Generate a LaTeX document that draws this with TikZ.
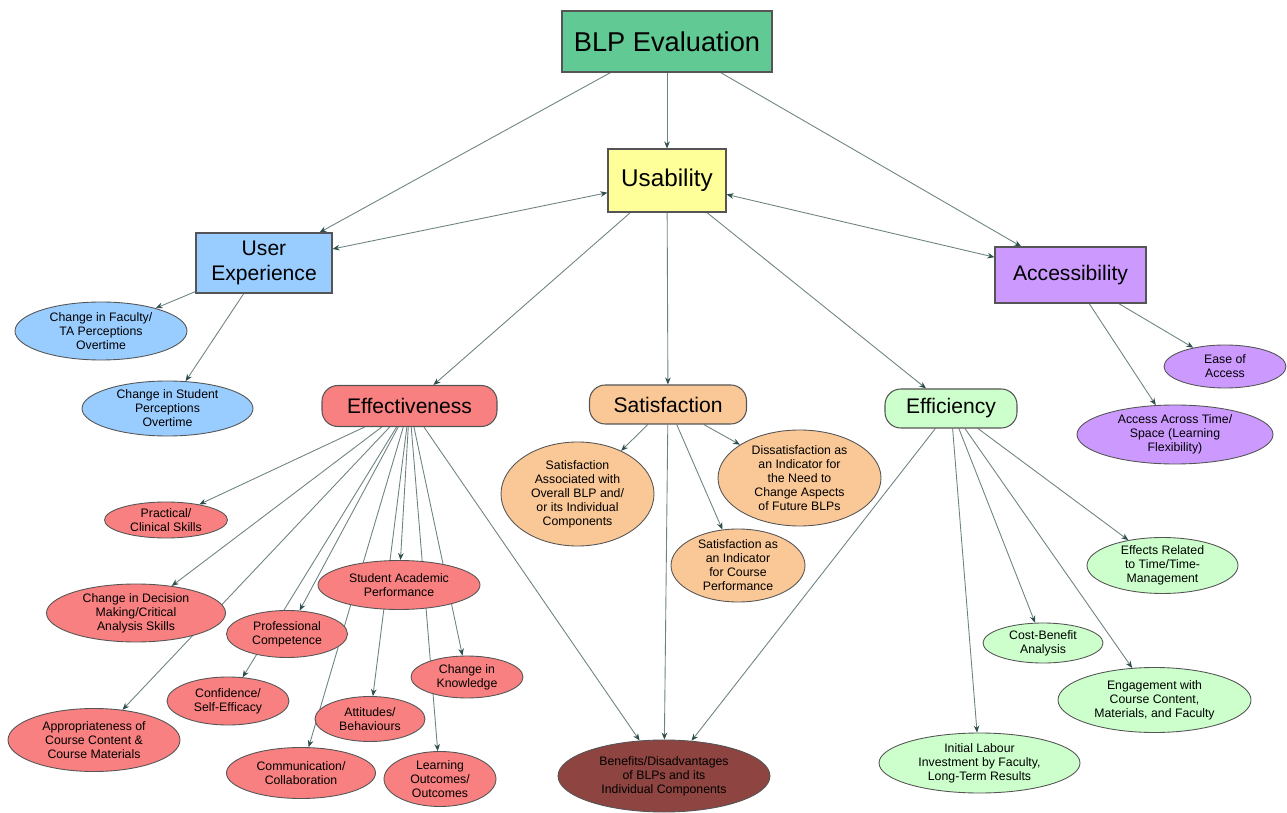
\documentclass[tikz,border=0pt]{standalone}
\usepackage{fontspec}
\setmainfont{Liberation Sans}
\usetikzlibrary{shapes.geometric,arrows.meta}
\pgfdeclarelayer{bg}
\pgfsetlayers{bg,main}
\definecolor{cBLP}{HTML}{61C993}
\definecolor{cUsa}{HTML}{FFFF99}
\definecolor{cBlue}{HTML}{99CCFF}
\definecolor{cPurp}{HTML}{CC99FF}
\definecolor{cRed}{HTML}{F88080}
\definecolor{cOrg}{HTML}{FAC896}
\definecolor{cGrn}{HTML}{CCFFCC}
\definecolor{cBen}{HTML}{8E4440}
\definecolor{lineC}{HTML}{6E8282}
\definecolor{tipC}{HTML}{2F4F4F}
\definecolor{bordC}{HTML}{555555}
\tikzset{
  sz/.style 2 args={minimum width=#1*0.02cm, minimum height=#2*0.02cm},
  boxnode/.style={rectangle, draw=bordC, line width=0.6pt, inner sep=0pt, align=center},
  rbox/.style={boxnode, rounded corners=9pt, font=\fontsize{12}{14}\selectfont},
  ell/.style={ellipse, draw=bordC, line width=0.5pt, inner sep=0pt, align=center, font=\fontsize{7}{8}\selectfont},
  conn/.style={draw=lineC, line width=0.5pt},
  >={Stealth[length=4pt,width=3.2pt,color=tipC]}
}
\begin{document}
\begin{tikzpicture}[x=0.02cm,y=-0.02cm]
\useasboundingbox (0,0) rectangle (1287,813);
% top level
\node[boxnode, fill=cBLP, sz={210}{61}, font=\fontsize{15.5}{18}\selectfont] (blp) at (667,41.5) {BLP Evaluation};
\node[boxnode, fill=cUsa, sz={118}{63}, font=\fontsize{13.8}{16}\selectfont] (usab) at (667,180.5) {Usability};
\node[boxnode, fill=cBlue, sz={136}{60}, font=\fontsize{12}{14.2}\selectfont] (ux) at (264,263) {User\\Experience};
\node[boxnode, fill=cPurp, sz={151}{56}, font=\fontsize{12}{14}\selectfont] (acc) at (1070.5,275) {Accessibility};
\node[rbox, fill=cRed, sz={175}{41}] (eff) at (409.5,406) {Effectiveness};
\node[rbox, fill=cOrg, sz={157}{39}] (sat) at (668,404.5) {Satisfaction};
\node[rbox, fill=cGrn, sz={132}{39}] (effi) at (951,408.5) {Efficiency};
% user experience
\node[ell, fill=cBlue, sz={172}{58}] (fac) at (101,331) {Change in Faculty/\\TA Perceptions\\Overtime};
\node[ell, fill=cBlue, sz={171}{55}] (stu) at (167.5,408.5) {Change in Student\\Perceptions\\Overtime};
% accessibility
\node[ell, fill=cPurp, sz={122}{43}] (ease) at (1225,366.5) {Ease of\\Access};
\node[ell, fill=cPurp, sz={196}{59}] (across) at (1175,434.5) {Access Across Time/\\Space (Learning\\Flexibility)};
% satisfaction
\node[ell, fill=cOrg, sz={153}{104}] (sassoc) at (577.5,494) {Satisfaction\\Associated with\\Overall BLP and/\\or its Individual\\Components};
\node[ell, fill=cOrg, sz={163}{96}] (dissat) at (799.5,478) {Dissatisfaction as\\an Indicator for\\the Need to\\Change Aspects\\of Future BLPs};
\node[ell, fill=cOrg, sz={134}{73}] (sind) at (738,565.5) {Satisfaction as\\an Indicator\\for Course\\Performance};
% efficiency
\node[ell, fill=cGrn, sz={151}{55}] (time) at (1162.5,565.5) {Effects Related\\to Time/Time-\\Management};
\node[ell, fill=cGrn, sz={120}{40}] (cost) at (1043,643) {Cost-Benefit\\Analysis};
\node[ell, fill=cGrn, sz={193}{65}] (eng) at (1154.5,700) {Engagement with\\Course Content,\\Materials, and Faculty};
\node[ell, fill=cGrn, sz={201}{60}] (labour) at (979.5,763) {Initial Labour\\Investment by Faculty,\\Long-Term Results};
% effectiveness
\node[ell, fill=cRed, sz={123}{36}] (prac) at (166,520) {Practical/\\Clinical Skills};
\node[ell, fill=cRed, sz={179}{58}] (dec) at (136,613) {Change in Decision\\Making/Critical\\Analysis Skills};
\node[ell, fill=cRed, sz={121}{47}] (prof) at (287,634) {Professional\\Competence};
\node[ell, fill=cRed, sz={162}{49}] (sap) at (399,585) {Student Academic\\Performance};
\node[ell, fill=cRed, sz={122}{48}] (conf) at (228,701) {Confidence/\\Self-Efficacy};
\node[ell, fill=cRed, sz={172}{63}] (appr) at (94,740) {Appropriateness of\\Course Content \&\\Course Materials};
\node[ell, fill=cRed, sz={112}{42}] (know) at (467,677) {Change in\\Knowledge};
\node[ell, fill=cRed, sz={110}{45}] (att) at (370,719) {Attitudes/\\Behaviours};
\node[ell, fill=cRed, sz={149}{51}] (comm) at (301,773) {Communication/\\Collaboration};
\node[ell, fill=cRed, sz={112}{55}] (learn) at (440,779) {Learning\\Outcomes/\\Outcomes};
% benefits
\node[ell, fill=cBen, sz={212}{72}] (ben) at (664,776) {Benefits/Disadvantages\\of BLPs and its\\Individual Components};
% connectors
\begin{pgfonlayer}{bg}
\draw[conn,->] (blp) -- (usab);
\draw[conn,->] (blp) -- (ux);
\draw[conn,->] (blp) -- (acc);
\draw[conn,<->] (usab) -- (ux);
\draw[conn,<->] (usab) -- (acc);
\draw[conn,->] (usab) -- (eff);
\draw[conn,->] (usab) -- (sat);
\draw[conn,->] (usab) -- (effi);
\draw[conn,->] (ux) -- (fac);
\draw[conn,->] (ux) -- (stu);
\draw[conn,->] (acc) -- (ease);
\draw[conn,->] (acc) -- (across);
\draw[conn,->] (sat) -- (sassoc);
\draw[conn,->] (sat) -- (dissat);
\draw[conn,->] (sat) -- (sind);
\draw[conn,->] (sat) -- (ben);
\draw[conn,->] (effi) -- (time);
\draw[conn,->] (effi) -- (cost);
\draw[conn,->] (effi) -- (eng);
\draw[conn,->] (effi) -- (labour);
\draw[conn,->] (effi) -- (ben);
\draw[conn,->] (eff) -- (prac);
\draw[conn,->] (eff) -- (dec);
\draw[conn,->] (eff) -- (appr);
\draw[conn,->] (eff) -- (prof);
\draw[conn,->] (eff) -- (conf);
\draw[conn,->] (eff) -- (sap);
\draw[conn,->] (eff) -- (comm);
\draw[conn,->] (eff) -- (att);
\draw[conn,->] (eff) -- (learn);
\draw[conn,->] (eff) -- (know);
\draw[conn,->] (eff) -- (ben);
\end{pgfonlayer}
\end{tikzpicture}
\end{document}
